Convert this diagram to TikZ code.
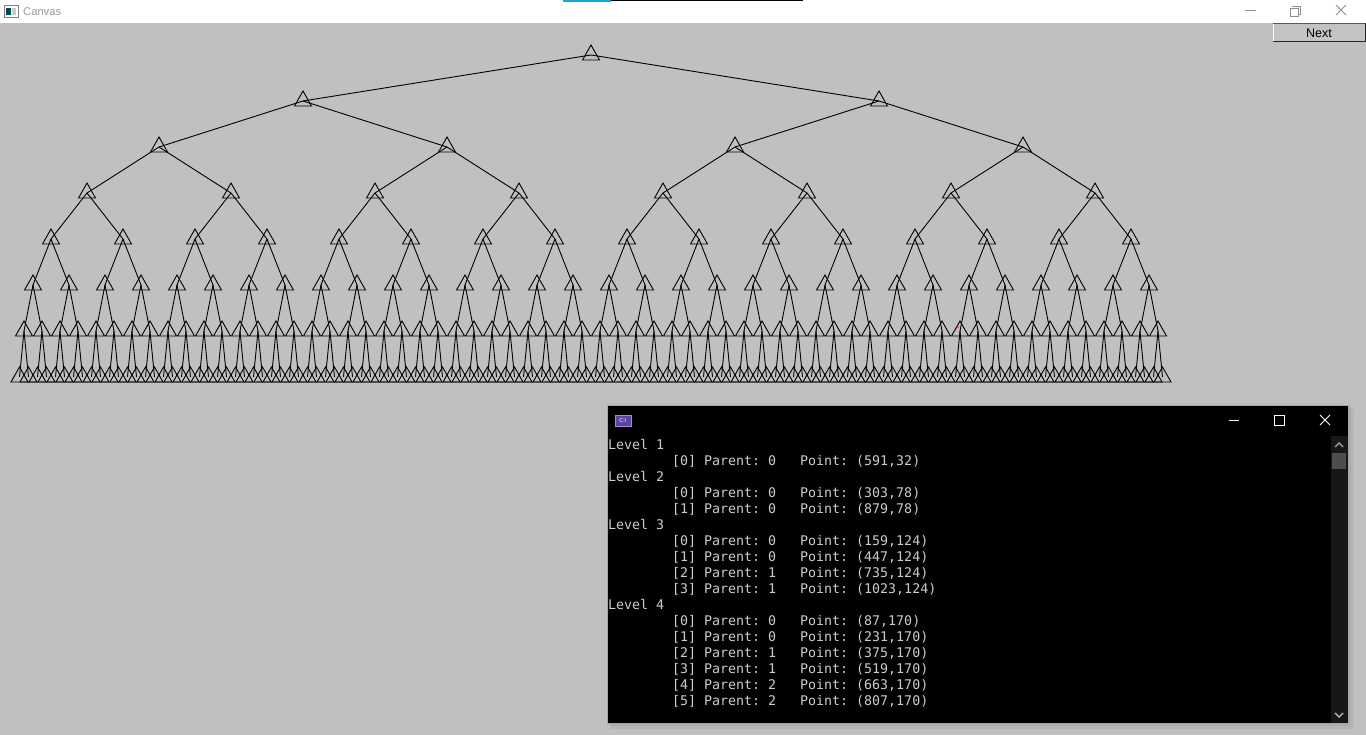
\documentclass[tikz,border=0pt]{standalone}
\usepackage{fontspec}
\newfontfamily\confont{DejaVu Sans Mono}
\newfontfamily\uifont{Liberation Sans}
\usetikzlibrary{calc}
\definecolor{canvasbg}{HTML}{C0C0C0}
\definecolor{context}{HTML}{CCCCCC}
\definecolor{ctrlgray}{HTML}{8E8E8E}
\definecolor{scrollbg}{HTML}{171717}
\definecolor{thumb}{HTML}{4D4D4D}
\definecolor{iconpurple}{HTML}{5E44A0}
\definecolor{titlegray}{HTML}{9A9A9A}
\tikzset{
  treeline/.style={black, line width=0.9pt, line join=miter},
  tri/.style={black, line width=0.9pt, line join=miter},
  contxt/.style={anchor=base west, inner sep=0pt, text=context, font=\confont\fontsize{13.3}{16}\selectfont},
  ctrl/.style={ctrlgray, line width=0.9pt},
  conctrl/.style={white, line width=1pt},
}
\begin{document}
\begin{tikzpicture}[x=1pt,y=-1pt]
\useasboundingbox (0,0) rectangle (1366,735);
% window backgrounds
\fill[canvasbg] (0,0) rectangle (1366,735);
\fill[white] (0,0) rectangle (1366,23);
% taskbar hint at top
\fill[cyan!70!teal] (563,0) rectangle (611,1.6);
\fill[black] (611,0) rectangle (803,1.2);
% canvas window icon and title
\fill[white] (4,5) rectangle (18,17);
\draw[gray, line width=0.7pt] (4,5) rectangle (18,17);
\fill[teal!60!black] (6,8) rectangle (11,15);
\fill[gray!40] (12,8) rectangle (16,15);
\node[anchor=west, inner sep=0pt, text=titlegray, font=\uifont\fontsize{11.2}{13}\selectfont] (title) at (23,11.5) {Canvas};
% window controls
\draw[ctrl] (1245,10) -- (1256,10);
\draw[ctrl] (1292,6) -- (1300,6) -- (1300,14) -- (1298,14);
\draw[ctrl] (1290,8) rectangle (1298,16);
\draw[ctrl] (1336,5) -- (1346,15) (1346,5) -- (1336,15);
% Next button
\fill[canvasbg!95!white] (1273,23) rectangle (1366,42);
\draw[white, line width=1pt] (1273.5,42) -- (1273.5,23.5) -- (1366,23.5);
\draw[gray!70!black, line width=0.8pt] (1273,23) -- (1366,23);
\draw[black!85, line width=1.3pt] (1273,41.6) -- (1366,41.6);
\draw[black!85, line width=1.3pt] (1365.4,23) -- (1365.4,42);
\node[inner sep=0pt, font=\uifont\fontsize{12.5}{14}\selectfont] (next) at (1319,33) {Next};
% tree nodes (triangles)
\foreach \L in {1,...,8}{
  \pgfmathtruncatemacro\N{2^(\L-1)-1}
  \pgfmathsetmacro\step{576/(2^(\L-1))}
  \foreach \i in {0,...,\N}{
    \pgfmathsetmacro\xx{15+(2*\i+1)*\step}
    \pgfmathsetmacro\yy{55+46*(\L-1)}
    \coordinate (n\L-\i) at (\xx,\yy);
    \draw[tri] ($(n\L-\i)+(0,-10)$) -- ++(-8.5,15) -- ++(17,0) -- cycle;
  }
}
% tree edges
\foreach \L in {1,...,7}{
  \pgfmathtruncatemacro\M{\L+1}
  \pgfmathtruncatemacro\N{2^(\L-1)-1}
  \foreach \i in {0,...,\N}{
    \pgfmathtruncatemacro\a{2*\i}
    \pgfmathtruncatemacro\b{2*\i+1}
    \draw[treeline] (n\L-\i) -- (n\M-\a);
    \draw[treeline] (n\L-\i) -- (n\M-\b);
  }
}
% red mark
\fill[red!80, opacity=0.7] (958,327) circle (1.3);
% console shadow
\fill[black, opacity=0.05] (611,409) rectangle (1354,729);
\fill[black, opacity=0.05] (609,407) rectangle (1351,726);
% console window
\fill[black] (607,405) rectangle (1348,723);
\draw[gray!70, line width=0.8pt] (607,405) rectangle (1348,723);
% console icon
\fill[iconpurple] (615,415) rectangle (631,426);
\draw[iconpurple!60!white, line width=0.6pt] (615,415) rectangle (631,426);
\node[inner sep=0pt, text=white, font=\uifont\fontsize{5.5}{6}\selectfont] (cicon) at (623,421) {C:\textbackslash};
% console controls
\draw[conctrl] (1229,420) -- (1239,420);
\draw[conctrl] (1274,415) rectangle (1284,425);
\draw[conctrl] (1320,415) -- (1330,425) (1330,415) -- (1320,425);
% scrollbar
\fill[scrollbg] (1331,436) rectangle (1347.5,722.5);
\fill[thumb] (1332,453) rectangle (1346,469);
\draw[gray!80, line width=1.4pt] (1335,447) -- (1339,443) -- (1343,447);
\draw[gray!60, line width=1.4pt] (1335,713) -- (1339,717) -- (1343,713);
% console text
\foreach \k/\lv in {0/1, 2/2, 5/3, 10/4}{
  \node[contxt] (lv\k) at (608,449+16*\k) {Level};
  \node[contxt] (lvn\k) at (656,449+16*\k) {\lv};
}
\foreach \k/\i/\p/\pt in {1/0/0/{(591,32)}, 3/0/0/{(303,78)}, 4/1/0/{(879,78)},
  6/0/0/{(159,124)}, 7/1/0/{(447,124)}, 8/2/1/{(735,124)}, 9/3/1/{(1023,124)},
  11/0/0/{(87,170)}, 12/1/0/{(231,170)}, 13/2/1/{(375,170)}, 14/3/1/{(519,170)},
  15/4/2/{(663,170)}, 16/5/2/{(807,170)}}{
  \node[contxt] (ix\k) at (672,449+16*\k) {[\i]};
  \node[contxt] (pa\k) at (704,449+16*\k) {Parent:};
  \node[contxt] (pv\k) at (768,449+16*\k) {\p};
  \node[contxt] (po\k) at (800,449+16*\k) {Point:};
  \node[contxt] (pt\k) at (856,449+16*\k) {\pt};
}
\end{tikzpicture}
\end{document}
